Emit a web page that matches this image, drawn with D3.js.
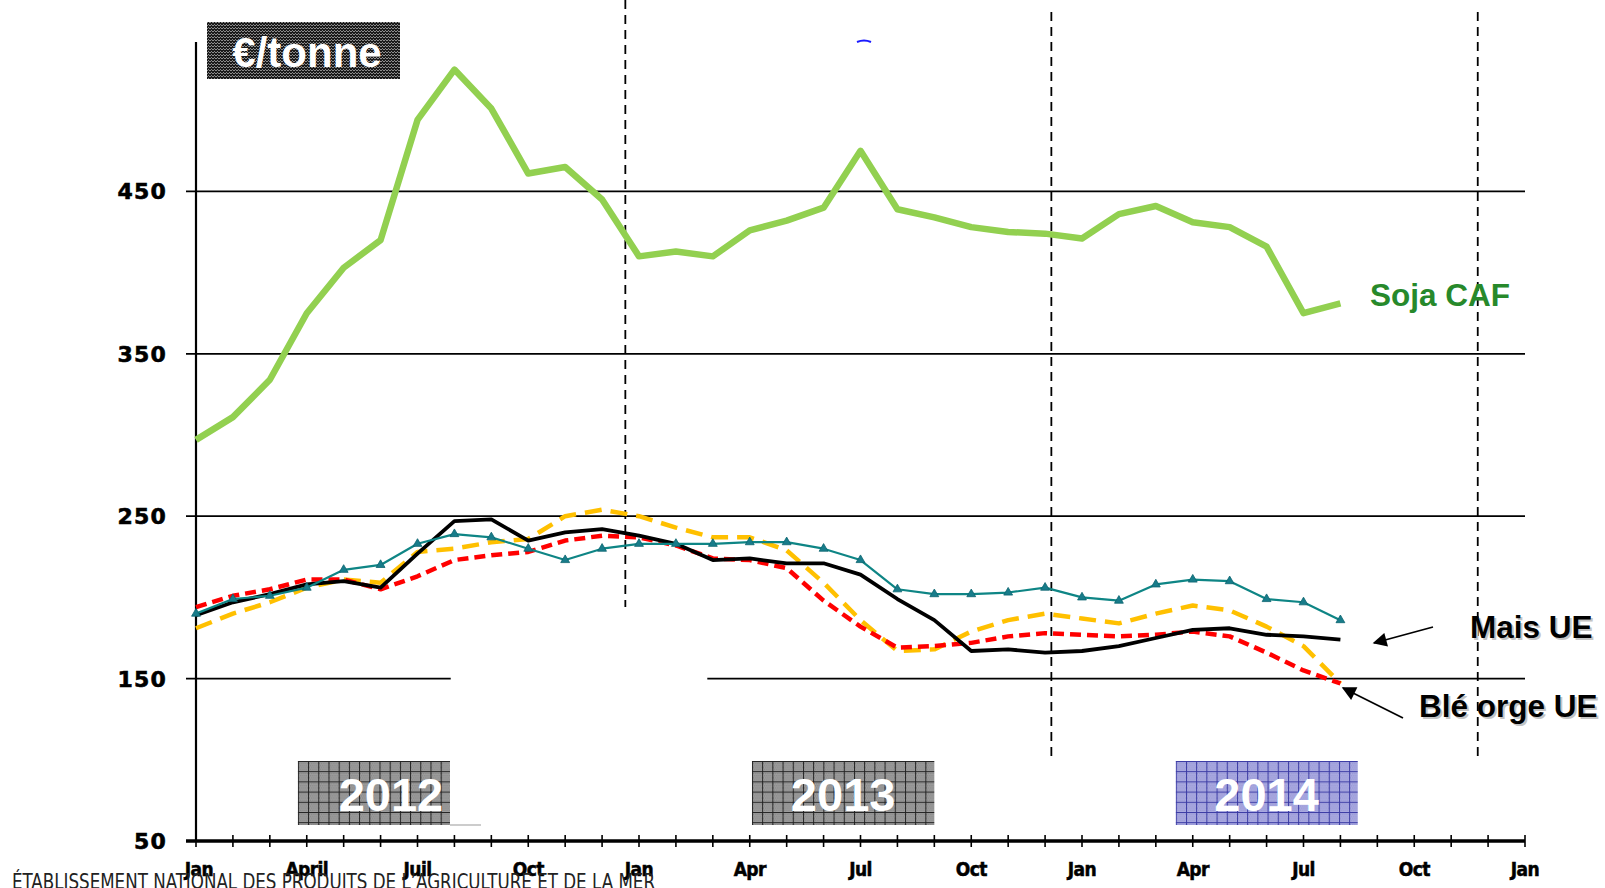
<!DOCTYPE html>
<html>
<head>
<meta charset="utf-8">
<script src="https://cdn.jsdelivr.net/npm/d3@7"></script>
<style>
  html, body { margin: 0; padding: 0; background: #ffffff; }
  svg { display: block; }
</style>
</head>
<body>
<script>
// ---- Data: monthly prices (€/tonne), Jan 2012 .. Aug 2014 ----
const months = d3.range(32); // month index from Jan 2012

const soja = [297, 311, 334, 375, 403, 420, 494, 525, 501, 461, 465, 445,
              410, 413, 410, 426, 432, 440, 475, 439, 434, 428, 425, 424,
              421, 436, 441, 431, 428, 416, 375, 381];

const mais = [189, 197, 202, 208, 210, 206, 227, 247, 248, 235, 240, 242,
              238, 233, 223, 224, 221, 221, 214, 199, 186, 167, 168, 166,
              167, 170, 175, 180, 181, 177, 176, 174];

const sarcelle = [190, 199, 201, 206, 217, 220, 233, 239, 237, 230, 223, 230,
                  233, 233, 233, 234, 234, 230, 223, 205, 202, 202, 203, 206,
                  200, 198, 208, 211, 210, 199, 197, 186];

const ble = [194, 201, 205, 211, 211, 205, 213, 223, 226, 228, 235, 238,
             237, 232, 224, 223, 218, 198, 182, 169, 170, 172, 176, 178,
             177, 176, 177, 179, 176, 166, 155, 147];

const orge = [181, 190, 197, 206, 211, 209, 228, 230, 234, 236, 250, 254,
              250, 243, 237, 237, 229, 209, 186, 167, 168, 179, 186, 190,
              187, 184, 190, 195, 192, 182, 170, 147];

// ---- Axis content ----
const tickMonths = d3.range(37);
const monthLabels = [
  { m: 0, t: "Jan" }, { m: 3, t: "April" }, { m: 6, t: "Juil" }, { m: 9, t: "Oct" },
  { m: 12, t: "Jan" }, { m: 15, t: "Apr" }, { m: 18, t: "Jul" }, { m: 21, t: "Oct" },
  { m: 24, t: "Jan" }, { m: 27, t: "Apr" }, { m: 30, t: "Jul" }, { m: 33, t: "Oct" },
  { m: 36, t: "Jan" }
];
const yTickValues = [50, 150, 250, 350, 450];
const gridValues = [150, 250, 350, 450];
const yearLabels = ["2012", "2013", "2014"];

// ---- Layout ----
const W = 1605, H = 888;
const x = d3.scaleLinear().domain([0, 36]).range([196, 1525]);
const y = d3.scaleLinear().domain([50, 542]).range([841, 42]);

const svg = d3.select("body").append("svg")
  .attr("width", W).attr("height", H)
  .attr("viewBox", `0 0 ${W} ${H}`);

const defs = svg.append("defs");

// fine dithered fills with a grid, as used behind the year and unit labels
function gridPattern(id, ox, oy, size, base, dot, line) {
  const p = defs.append("pattern").attr("id", id)
    .attr("patternUnits", "userSpaceOnUse")
    .attr("x", ox).attr("y", oy)
    .attr("width", size).attr("height", size);
  p.append("rect").attr("width", size).attr("height", size).attr("fill", base);
  for (let j = 0; j < size; j += 2) {
    for (let i = (j / 2) % 2; i < size; i += 2) {
      p.append("rect").attr("x", i).attr("y", j).attr("width", 1).attr("height", 1).attr("fill", dot);
    }
  }
  if (line) {
    p.append("rect").attr("width", size).attr("height", 1).attr("fill", line);
    p.append("rect").attr("width", 1).attr("height", size).attr("fill", line);
  }
}

// arrow head marker
defs.append("marker").attr("id", "arrowHead")
  .attr("viewBox", "0 0 10 10").attr("refX", 9).attr("refY", 5)
  .attr("markerWidth", 15).attr("markerHeight", 14)
  .attr("markerUnits", "userSpaceOnUse")
  .attr("orient", "auto")
  .append("path").attr("d", "M0,0 L10,5 L0,10 z").attr("fill", "#000");

// ---- Grid lines ----
const grid = svg.append("g");
grid.selectAll("line").data(gridValues).join("line")
  .attr("x1", 186).attr("x2", x(36))
  .attr("y1", d => y(d)).attr("y2", d => y(d))
  .attr("stroke", "#000").attr("stroke-width", 1.7);
// break in the 150 line
svg.append("rect")
  .attr("x", x(6.9)).attr("width", x(13.85) - x(6.9))
  .attr("y", y(150) - 4).attr("height", 8).attr("fill", "#fff");

// ---- Year divider lines ----
const dividers = [
  { m: 11.63, top: 0, bottom: 607 },
  { m: 23.17, top: 12, bottom: 762 },
  { m: 34.72, top: 12, bottom: 762 }
];
svg.append("g").selectAll("line").data(dividers).join("line")
  .attr("x1", d => x(d.m)).attr("x2", d => x(d.m))
  .attr("y1", d => d.top).attr("y2", d => d.bottom)
  .attr("stroke", "#000").attr("stroke-width", 1.8)
  .attr("stroke-dasharray", "9,6");

// ---- Axes ----
const axes = svg.append("g");
// y axis line
axes.append("line").attr("x1", x(0)).attr("x2", x(0))
  .attr("y1", y(542)).attr("y2", y(50))
  .attr("stroke", "#000").attr("stroke-width", 2.2);
// x axis line
axes.append("line").attr("x1", 186).attr("x2", x(36))
  .attr("y1", y(50)).attr("y2", y(50))
  .attr("stroke", "#000").attr("stroke-width", 3.5);
// month ticks
axes.selectAll("line.mt").data(tickMonths).join("line").attr("class", "mt")
  .attr("x1", d => x(d)).attr("x2", d => x(d))
  .attr("y1", y(50) - 6).attr("y2", y(50) + 6)
  .attr("stroke", "#000").attr("stroke-width", 1.6);
// y labels
axes.selectAll("text.yl").data(yTickValues).join("text").attr("class", "yl")
  .attr("x", 167).attr("y", d => y(d))
  .attr("dy", "0.36em")
  .attr("text-anchor", "end")
  .attr("font-family", "'DejaVu Sans', sans-serif")
  .attr("font-weight", "bold")
  .attr("font-size", 22)
  .attr("letter-spacing", 1.2)
  .attr("stroke", "#000").attr("stroke-width", 0.6)
  .attr("fill", "#000")
  .text(d => d);
// month labels
axes.selectAll("text.xl").data(monthLabels).join("text").attr("class", "xl")
  .attr("x", d => x(d.m) + (d.m === 0 ? 3 : 0)).attr("y", 876)
  .attr("text-anchor", "middle")
  .attr("font-family", "'DejaVu Sans Condensed', 'DejaVu Sans', sans-serif")
  .attr("font-weight", "bold")
  .attr("font-size", 19)
  .attr("letter-spacing", -0.6)
  .attr("stroke", "#000").attr("stroke-width", 0.5)
  .attr("fill", "#000")
  .text(d => d.t);

// ---- Year boxes ----
const yearBoxes = [
  { from: 2.76, to: 6.88, textAt: 5.28, pat: "patGray" },
  { from: 15.06, to: 20.0, textAt: 17.53, pat: "patGray2" },
  { from: 26.54, to: 31.47, textAt: 29.0, pat: "patBlue" }
];
gridPattern("patGray", x(2.76), 761, 10.2, "#a0a0a0", "#767676", "#222222");
gridPattern("patGray2", x(15.06), 761, 10.2, "#a0a0a0", "#767676", "#222222");
gridPattern("patBlue", x(26.54), 761, 10.2, "#acace2", "#8c8cce", "#3a3aa4");
const yb = svg.append("g");
yb.selectAll("rect").data(yearBoxes).join("rect")
  .attr("x", d => x(d.from)).attr("width", d => x(d.to) - x(d.from))
  .attr("y", 761).attr("height", 64)
  .attr("fill", d => `url(#${d.pat})`);
yb.append("line").attr("x1", x(6.88)).attr("x2", x(7.72)).attr("y1", 825).attr("y2", 825)
  .attr("stroke", "#999").attr("stroke-width", 1);
yb.selectAll("text").data(yearBoxes).join("text")
  .attr("x", d => x(d.textAt)).attr("y", 811)
  .attr("text-anchor", "middle")
  .attr("font-family", "'Liberation Sans', Arial, sans-serif")
  .attr("font-weight", "bold")
  .attr("font-size", 47)
  .attr("fill", "#fff")
  .text((d, i) => yearLabels[i]);

// ---- Unit box ----
gridPattern("patDark", 207, 22, 3, "#1a1a1a", "#8c8c8c", null);
svg.append("rect").attr("x", 207).attr("y", 22).attr("width", 193).attr("height", 57)
  .attr("fill", "url(#patDark)");
svg.append("text").attr("x", 307).attr("y", 67)
  .attr("text-anchor", "middle")
  .attr("font-family", "'Liberation Sans', Arial, sans-serif")
  .attr("font-weight", "bold")
  .attr("font-size", 42)
  .attr("fill", "#fff")
  .text("€/tonne");

// small blue mark near the top
svg.append("path").attr("d", "M857,42 Q864,39 871,42")
  .attr("fill", "none").attr("stroke", "#1a1aff").attr("stroke-width", 2);

// ---- Series lines ----
const line = d3.line().x((d, i) => x(months[i])).y(d => y(d));
const plot = svg.append("g").attr("fill", "none").attr("stroke-linejoin", "round");

plot.append("path").datum(orge).attr("d", line)
  .attr("stroke", "#ffc000").attr("stroke-width", 4.5).attr("stroke-dasharray", "17,9");
plot.append("path").datum(ble).attr("d", line)
  .attr("stroke", "#ff0000").attr("stroke-width", 4.5).attr("stroke-dasharray", "11,6");
plot.append("path").datum(mais).attr("d", line)
  .attr("stroke", "#000").attr("stroke-width", 3.8);
plot.append("path").datum(sarcelle).attr("d", line)
  .attr("stroke", "#0e8585").attr("stroke-width", 2.2);
plot.append("path").datum(soja).attr("d", line)
  .attr("stroke", "#92d050").attr("stroke-width", 6.5);

// triangle markers on the teal series
svg.append("g").selectAll("path").data(sarcelle).join("path")
  .attr("transform", (d, i) => `translate(${x(months[i])},${y(d)})`)
  .attr("d", d3.symbol(d3.symbolTriangle, 34))
  .attr("fill", "#187c8a").attr("stroke", "#0b6470").attr("stroke-width", 0.8);

// ---- Series labels and arrows ----
svg.append("text").attr("x", 1370).attr("y", 306)
  .attr("font-family", "'Liberation Sans', Arial, sans-serif")
  .attr("font-weight", "bold").attr("font-size", 31.5)
  .attr("fill", "#27892b")
  .text("Soja CAF");

const callouts = [
  { t: "Mais UE", x: 1470, y: 638 },
  { t: "Blé orge UE", x: 1419, y: 717 }
];
const cg = svg.append("g")
  .attr("font-family", "'Liberation Sans', Arial, sans-serif")
  .attr("font-weight", "bold").attr("font-size", 31.5);
cg.selectAll("text.sh").data(callouts).join("text").attr("class", "sh")
  .attr("x", d => d.x + 2).attr("y", d => d.y + 2)
  .attr("fill", "#c4c4c4").text(d => d.t);
cg.selectAll("text.lb").data(callouts).join("text").attr("class", "lb")
  .attr("x", d => d.x).attr("y", d => d.y)
  .attr("fill", "#000").text(d => d.t);

const arrows = [
  { x1: 1433, y1: 627, x2: 1374, y2: 643 },
  { x1: 1403, y1: 718, x2: 1343, y2: 688 }
];
svg.append("g").selectAll("line").data(arrows).join("line")
  .attr("x1", d => d.x1).attr("y1", d => d.y1)
  .attr("x2", d => d.x2).attr("y2", d => d.y2)
  .attr("stroke", "#000").attr("stroke-width", 1.6)
  .attr("marker-end", "url(#arrowHead)");

// ---- Footer ----
svg.append("text").attr("x", 12).attr("y", 889)
  .attr("font-family", "'Liberation Sans Narrow', 'DejaVu Sans Condensed', sans-serif")
  .attr("font-size", 21)
  .attr("textLength", 643).attr("lengthAdjust", "spacingAndGlyphs")
  .attr("fill", "#222")
  .text("ÉTABLISSEMENT NATIONAL DES PRODUITS DE L’AGRICULTURE ET DE LA MER");
</script>
</body>
</html>
